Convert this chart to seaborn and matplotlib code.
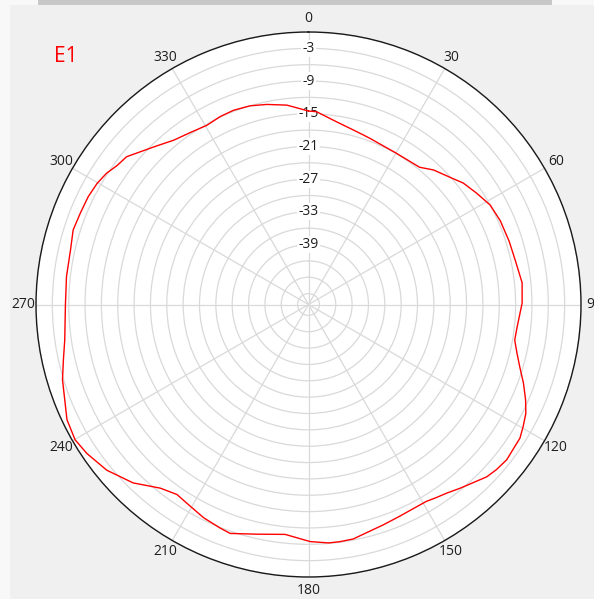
import numpy as np
import matplotlib
matplotlib.use("Agg")
import matplotlib.pyplot as plt
import seaborn as sns
from matplotlib.patches import Rectangle

sns.set_style("white")
plt.rcParams["font.family"] = ["Open Sans", "DejaVu Sans"]

# antenna pattern E1 (angle in degrees, level in dB)
angles = [0, 2.4, 8.8, 13.3, 17.9, 20.3, 29.6, 39.0, 42.9, 48.0, 51.9, 56.5,
          61.3, 66.4, 72.5, 78.0, 84.2, 89.6, 96.2, 99.8, 103.2, 106.4, 110.1,
          113.7, 116.6, 119.6, 122.3, 125.4, 128.1, 131.3, 134.0, 137.3, 140.5,
          143.8, 146.4, 149.1, 152.8, 156.7, 161.3, 165.7, 169.2, 172.5, 175.2,
          179.6, 185.8, 192.7, 198.9, 201.6, 206.2, 210.4, 214.7, 218.9, 224.5,
          230.6, 236.1, 239.9, 244.5, 253.0, 257.3, 261.7, 270.0, 276.6, 282.9,
          287.6, 291.8, 296.1, 299.8, 303.0, 306.0, 309.1, 312.2, 316.2, 320.6,
          325.4, 330.4, 334.8, 338.9, 343.6, 348.2, 353.8, 360.0]
levels = [-14.5, -14.6, -16.1, -16.8, -17.3, -17.5, -17.9, -17.6, -16.3, -15.1, -13.9, -13.0,
          -12.0, -11.6, -11.4, -11.2, -10.6, -10.8, -11.5, -11.6, -10.7, -9.6, -8.0,
          -6.5, -5.4, -4.7, -4.1, -4.0, -3.8, -4.1, -4.5, -5.5, -6.3,
          -7.1, -7.5, -7.9, -7.9, -7.7, -7.3, -6.8, -6.2, -6.1, -6.1,
          -6.5, -7.6, -6.8, -5.6, -5.9, -6.4, -7.1, -7.6, -6.7, -4.1,
          -2.1, -1.0, -0.5, -0.9, -2.8, -3.9, -4.8, -5.4, -5.3, -5.2,
          -4.7, -4.9, -5.0, -5.3, -5.8, -6.6, -7.0, -8.3, -9.7, -11.0,
          -11.7, -12.2, -11.9, -11.8, -12.0, -12.5, -13.2, -14.5]

angle_ticks = list(range(0, 360, 30))
ring_values = list(range(-48, 1, 3))
ring_labels = [-3, -9, -15, -21, -27, -33, -39]
r_min, r_max = -50, 0

W, H = 594, 599
fig = plt.figure(figsize=(W / 100, H / 100), dpi=100, facecolor="#F0F0F0")

# window chrome bits
fig.patches.append(Rectangle((0, 0), 10 / W, 1, transform=fig.transFigure,
                             fc="#F8F8F8", ec="none", zorder=0))
fig.patches.append(Rectangle((0, 1 - 5 / H), 1, 5 / H, transform=fig.transFigure,
                             fc="#F8F8F8", ec="none", zorder=0))
fig.patches.append(Rectangle((38 / W, 1 - 5 / H), (552 - 38) / W, 5 / H,
                             transform=fig.transFigure, fc="#C8C8C8", ec="none", zorder=1))

cx, cy, R = 308.5, 304.5, 272.5
ax = fig.add_axes([(cx - R) / W, (H - cy - R) / H, 2 * R / W, 2 * R / H], projection="polar")
ax.set_facecolor("white")
ax.set_theta_zero_location("N")
ax.set_theta_direction(-1)

sns.lineplot(x=np.radians(angles), y=levels, ax=ax, sort=False, color="red",
             linewidth=1.0, zorder=5, solid_joinstyle="round")

ax.set_ylim(r_min, r_max)
ax.set_yticks(ring_values)
ax.set_yticklabels([])
ax.set_xticks(np.radians(angle_ticks))
ax.set_xticklabels([])
ax.grid(True, color="#D9D9D9", linewidth=0.9)
ax.set_xlabel("")
ax.set_ylabel("")
ax.spines["polar"].set_color("#1A1A1A")
ax.spines["polar"].set_linewidth(1.0)

# radial labels along the 0 degree spoke
for v in ring_labels:
    ax.text(0, v, str(v), ha="center", va="center", fontsize=10, color="#1E1E1E",
            bbox=dict(fc="white", ec="none", pad=0.8), zorder=4)

# angle labels outside the circle (90 is cut by the window edge, as in the original)
off = 13 / R * (r_max - r_min)
for a in angle_ticks:
    ax.text(np.radians(a), r_max + off, str(a), ha="center", va="center",
            fontsize=10, color="#1E1E1E", clip_on=False)

fig.text(66 / W, 1 - 57 / H, "E1", color="red", fontsize=15, ha="center", va="center")

fig.savefig("out.png", dpi=100, facecolor=fig.get_facecolor())
